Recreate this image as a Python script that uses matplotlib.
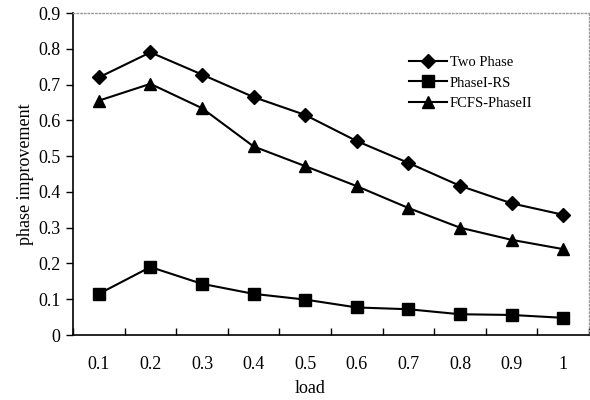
import matplotlib
matplotlib.use("Agg")
import matplotlib.pyplot as plt

loads = ["0.1", "0.2", "0.3", "0.4", "0.5", "0.6", "0.7", "0.8", "0.9", "1"]
two_phase = [0.720, 0.790, 0.728, 0.665, 0.615, 0.542, 0.481, 0.417, 0.368, 0.336]
phase1_rs = [0.115, 0.190, 0.143, 0.115, 0.099, 0.077, 0.072, 0.058, 0.056, 0.048]
fcfs_phase2 = [0.655, 0.702, 0.634, 0.527, 0.472, 0.416, 0.355, 0.300, 0.266, 0.240]
y_ticks = [0, 0.1, 0.2, 0.3, 0.4, 0.5, 0.6, 0.7, 0.8, 0.9]

plt.rcParams["font.family"] = ["Liberation Serif", "DejaVu Serif"]

fig = plt.figure(figsize=(5.9, 4.0), dpi=100)
ax = fig.add_axes([73 / 590, 65 / 400, 516 / 590, 322 / 400])

x = list(range(1, len(loads) + 1))
ax.plot(x, two_phase, color="black", lw=1.5, marker="D", ms=7, label="Two Phase")
ax.plot(x, phase1_rs, color="black", lw=1.5, marker="s", ms=8, label="PhaseI-RS")
ax.plot(x, fcfs_phase2, color="black", lw=1.5, marker="^", ms=9, label="FCFS-PhaseII")

ax.set_xlim(0.5, len(loads) + 0.5)
ax.set_ylim(0, 0.9)
ax.set_yticks(y_ticks)
ax.set_yticklabels(["0"] + [f"{v:.1f}" for v in y_ticks[1:]])
ax.set_xticks(x)
ax.set_xticklabels(loads)
ax.set_xticks([i + 0.5 for i in range(len(loads) + 1)], minor=True)
ax.tick_params(axis="x", which="major", length=0, pad=15, labelsize=13)
ax.tick_params(axis="x", which="minor", direction="in", length=5, width=1)
ax.tick_params(axis="y", direction="out", length=5, width=1, labelsize=13, pad=4)

for side in ("left", "bottom"):
    ax.spines[side].set_linewidth(1.2)
for side in ("top", "right"):
    ax.spines[side].set_color("#999999")
    ax.spines[side].set_linestyle(":")
    ax.spines[side].set_linewidth(1)

ax.set_xlabel("load", fontsize=13)
ax.xaxis.set_label_coords(0.459, -0.14)
ax.set_ylabel("phase improvement", fontsize=13)
ax.yaxis.set_label_coords(-0.075, 0.5)

ax.legend(loc="upper left", bbox_to_anchor=(0.64, 0.885), frameon=False,
          fontsize=10.5, handlelength=2.6, handletextpad=0.2, labelspacing=0.5,
          borderaxespad=0)

fig.savefig("out.png", dpi=100)
